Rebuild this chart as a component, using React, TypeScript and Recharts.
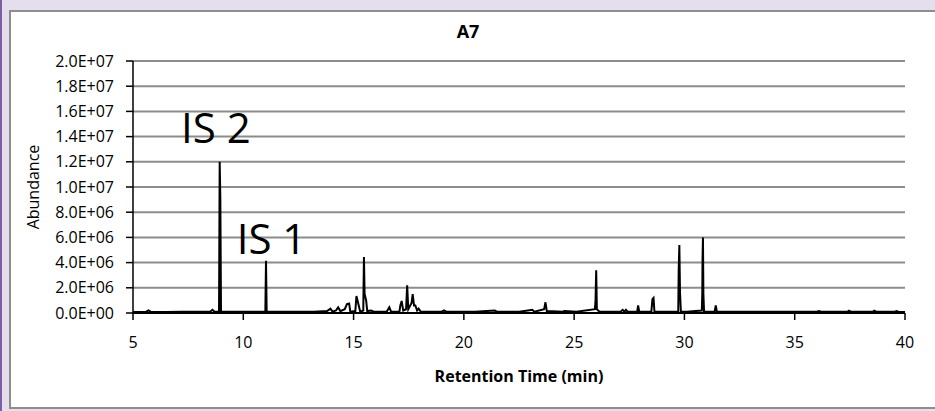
import React from 'react';
import { LineChart, Line, XAxis, YAxis, CartesianGrid, ReferenceDot } from 'recharts';

// retention time (min) and abundance (millions of counts)
const retentionTimes = [
  5.0, 5.6, 5.7, 5.8, 6.5, 7.2, 8.0, 8.5, 8.6, 8.7, 8.9, 8.93, 8.96, 8.99, 9.4,
  10.0, 11.0, 11.03, 11.06, 11.6, 12.4, 13.2, 13.8, 13.95, 14.05, 14.2, 14.3, 14.4,
  14.6, 14.7, 14.8, 14.85, 15.08, 15.13, 15.18, 15.3, 15.44, 15.47, 15.5, 15.57, 15.62,
  15.8, 15.9, 16.5, 16.62, 16.7, 17.08, 17.12, 17.18, 17.25, 17.38, 17.43, 17.48, 17.63,
  17.68, 17.74, 17.8, 17.88, 17.95, 18.05, 19.0, 19.1, 19.2, 20.5, 21.4, 21.5, 22.5,
  22.9, 23.1, 23.2, 23.64, 23.7, 23.76, 24.5, 24.55, 25.1, 25.94, 25.97, 26.0, 26.03,
  26.15, 27.1, 27.2, 27.28, 27.35, 27.42, 27.86, 27.9, 27.95, 28.5, 28.55, 28.6, 28.64,
  29.72, 29.74, 29.77, 29.8, 29.84, 30.1, 30.79, 30.81, 30.82, 30.84, 30.86, 30.89, 31.37,
  31.42, 31.47, 32.5, 34.0, 36.0, 36.1, 36.2, 37.4, 37.45, 37.55, 38.55, 38.6, 38.7,
  39.55, 39.62, 39.7, 40.0,
];
const abundances = [
  0.08, 0.1, 0.2, 0.1, 0.08, 0.1, 0.09, 0.1, 0.25, 0.1, 0.1, 12.0, 9.0, 0.1, 0.1,
  0.1, 0.1, 4.15, 0.1, 0.1, 0.1, 0.1, 0.15, 0.35, 0.1, 0.2, 0.45, 0.15,
  0.3, 0.7, 0.75, 0.1, 0.15, 1.35, 1.0, 0.1, 0.2, 4.45, 1.5, 1.0, 0.15,
  0.2, 0.1, 0.1, 0.45, 0.1, 0.1, 0.6, 0.95, 0.2, 0.3, 2.2, 0.3, 0.8,
  1.5, 0.6, 0.6, 0.2, 0.35, 0.1, 0.1, 0.2, 0.1, 0.1, 0.2, 0.1, 0.1,
  0.2, 0.25, 0.1, 0.3, 0.85, 0.15, 0.1, 0.15, 0.1, 0.3, 1.0, 3.4, 0.3,
  0.1, 0.1, 0.25, 0.1, 0.25, 0.1, 0.1, 0.6, 0.1, 0.1, 1.1, 1.2, 0.1,
  0.1, 3.4, 5.4, 1.6, 0.1, 0.1, 0.2, 1.6, 4.2, 6.0, 1.5, 0.1, 0.1,
  0.6, 0.1, 0.1, 0.1, 0.1, 0.15, 0.1, 0.1, 0.18, 0.1, 0.1, 0.18, 0.1,
  0.1, 0.15, 0.1, 0.08,
];

const xTicks = [5, 10, 15, 20, 25, 30, 35, 40];
const yTicks = [0, 2, 4, 6, 8, 10, 12, 14, 16, 18, 20];

const peakLabels = [
  { name: 'IS 2', time: 8.76, level: 13.5 },
  { name: 'IS 1', time: 11.28, level: 4.68 },
];

const data = retentionTimes.map((t, i) => ({ t, a: abundances[i] }));

const FONT = '"Open Sans", sans-serif';

// millions -> Excel style scientific label, e.g. 2.0E+07
const sci = (m: number) => {
  const v = m * 1e6;
  if (v === 0) return '0.0E+00';
  const exp = Math.floor(Math.log10(v));
  const mant = (v / Math.pow(10, exp)).toFixed(1);
  return `${mant}E+${String(exp).padStart(2, '0')}`;
};

export default function App() {
  return (
    <div style={{ position: 'absolute', left: 0, top: 0, width: 935, height: 411, background: '#e5dfed', overflow: 'hidden' }}>
      <div style={{ position: 'absolute', left: 0, top: 0, width: 2, height: 411, background: '#7d5fa8' }} />
      <div
        style={{
          position: 'absolute', left: 9, top: 10, width: 940, height: 399, background: '#fff',
          boxSizing: 'border-box', borderTop: '2px solid #8e8e8e', borderLeft: '2px solid #8e8e8e', borderBottom: '2px solid #8e8e8e',
        }}
      />
      <div style={{ position: 'absolute', left: 368, top: 18, width: 200, textAlign: 'center', fontFamily: FONT, fontWeight: 700, fontSize: 18, lineHeight: '26px' }}>
        A7
      </div>
      <div
        style={{
          position: 'absolute', left: 33 - 100, top: 187 - 12, width: 200, textAlign: 'center', fontFamily: FONT,
          fontSize: 16, lineHeight: '24px', transform: 'rotate(-90deg)',
        }}
      >
        Abundance
      </div>
      <div style={{ position: 'absolute', left: 369, top: 364, width: 300, textAlign: 'center', fontFamily: FONT, fontWeight: 700, fontSize: 16, lineHeight: '24px' }}>
        Retention Time (min)
      </div>
      <div style={{ position: 'absolute', left: 0, top: 0 }}>
        <LineChart width={935} height={411} data={data} margin={{ top: 61, right: 30, left: 10, bottom: 38 }}>
          <CartesianGrid vertical={false} stroke="#8c8c8c" strokeWidth={2} />
          <XAxis
            dataKey="t" type="number" domain={[5, 40]} ticks={xTicks} height={60}
            axisLine={{ stroke: '#000', strokeWidth: 2 }} tickLine={{ stroke: '#000', strokeWidth: 1.5 }}
            tickSize={7} tickMargin={17} tick={{ fill: '#000', fontSize: 16, fontFamily: FONT }}
          />
          <YAxis
            type="number" domain={[0, 20]} ticks={yTicks} width={123} tickFormatter={sci}
            axisLine={{ stroke: '#000', strokeWidth: 1.5 }} tickLine={{ stroke: '#000', strokeWidth: 1.5 }}
            tickSize={7} tickMargin={12} tick={{ fill: '#000', fontSize: 16, fontFamily: FONT }}
          />
          <Line type="linear" dataKey="a" stroke="#000" strokeWidth={2} dot={false} isAnimationActive={false} />
          {peakLabels.map((p) => (
            <ReferenceDot
              key={p.name} x={p.time} y={p.level} r={0} ifOverflow="visible"
              shape={(s: any) => (
                <text x={s.cx} y={s.cy} textAnchor="middle" fontSize={42} fontFamily={FONT} fill="#000">
                  {p.name}
                </text>
              )}
            />
          ))}
        </LineChart>
      </div>
    </div>
  );
}
